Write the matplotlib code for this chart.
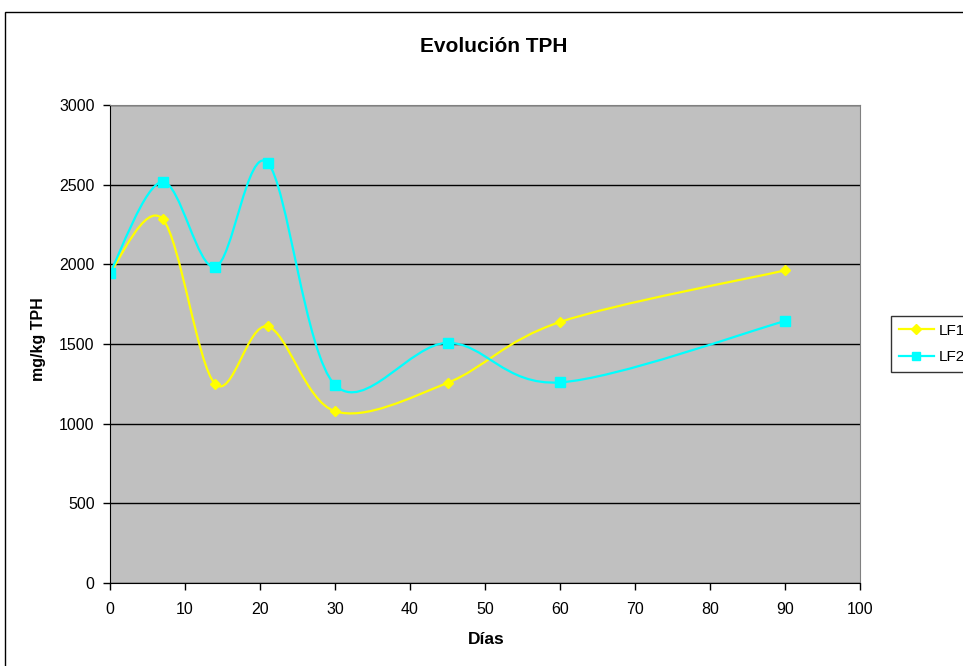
#%% LIBRARIES
import numpy as np
import matplotlib
matplotlib.use('Agg')
import matplotlib.pyplot as plt
from matplotlib.path import Path
from matplotlib.patches import PathPatch, Rectangle
from matplotlib.lines import Line2D

#%% DATA
dias = [0, 7, 14, 21, 30, 45, 60, 90]
lf1 = [1950, 2285, 1250, 1610, 1078, 1256, 1638, 1962]
lf2 = [1948, 2518, 1983, 2638, 1243, 1507, 1259, 1644]
series_names = ['LF1', 'LF2']
x_ticks = list(range(0, 101, 10))
y_ticks = list(range(0, 3001, 500))

plt.rcParams['font.family'] = ['Liberation Sans', 'DejaVu Sans']


#%% FUNCTIONS
def smooth_path(xs, ys):
    """ Excel-like smoothed line: cubic bezier with catmull-rom tangents """
    pts = np.column_stack([xs, ys]).astype(float)
    verts = [pts[0]]
    codes = [Path.MOVETO]
    n = len(pts)
    for i in range(n - 1):
        p0 = pts[i - 1] if i > 0 else pts[i]
        p1 = pts[i]
        p2 = pts[i + 1]
        p3 = pts[i + 2] if i + 2 < n else pts[i + 1]
        c1 = p1 + (p2 - p0) / 6.0
        c2 = p2 - (p3 - p1) / 6.0
        verts += [c1, c2, p2]
        codes += [Path.CURVE4] * 3
    return Path(verts, codes)


#%% PLOT
fig = plt.figure(figsize=(9.63, 6.66), dpi=100)
ax = fig.add_axes([110 / 963, 83 / 666, 750 / 963, 478 / 666])
ax.set_facecolor('#C0C0C0')

# outer chart border (cut off right and bottom like the reference)
fig.patches.append(Rectangle((5 / 963, -0.1), 1.2, 1.1 - 12 / 666,
                             transform=fig.transFigure, fill=False,
                             edgecolor='black', linewidth=1.0))

ax.set_xlim(0, 100)
ax.set_ylim(0, 3000)
ax.set_xticks(x_ticks)
ax.set_yticks(y_ticks)
ax.yaxis.grid(True, color='black', linewidth=1.0)
ax.set_axisbelow(True)

for key in ['top', 'right']:
    ax.spines[key].set_color('#808080')
for key in ['left', 'bottom']:
    ax.spines[key].set_color('black')

ax.tick_params(direction='out', length=5, width=1, labelsize=11.5)
ax.tick_params(axis='y', pad=6)
ax.tick_params(axis='x', pad=9)

colors = ['#FFFF00', '#00FFFF']
markers = ['D', 's']
msizes = [5.5, 7]
for vals, color, mk, ms, name in zip([lf1, lf2], colors, markers, msizes, series_names):
    ax.add_patch(PathPatch(smooth_path(dias, vals), facecolor='none',
                           edgecolor=color, linewidth=1.6))
    ax.plot(dias, vals, linestyle='none', marker=mk, markersize=ms,
            color=color, markeredgecolor=color)

handles = [Line2D([0], [0], color=c, marker=m, markersize=s, linewidth=1.6)
           for c, m, s in zip(colors, markers, [5, 6])]
leg = fig.legend(handles, series_names, loc='upper left',
                 bbox_to_anchor=(891 / 963, 1 - 316 / 666),
                 frameon=True, fancybox=False, edgecolor='black',
                 fontsize=11, handlelength=2.3, borderpad=0.5,
                 labelspacing=0.8, handletextpad=0.3, borderaxespad=0)
leg.get_frame().set_linewidth(1.0)

fig.text(494 / 963, 1 - 46 / 666, 'Evolución TPH', ha='center', va='center',
         fontsize=15, fontweight='bold')
fig.text(486 / 963, 1 - 639 / 666, 'Días', ha='center', va='center',
         fontsize=12.5, fontweight='bold')
fig.text(38 / 963, 1 - 339 / 666, 'mg/kg TPH', ha='center', va='center',
         rotation=90, fontsize=11.5, fontweight='bold')

fig.savefig('out.png', dpi=100)
